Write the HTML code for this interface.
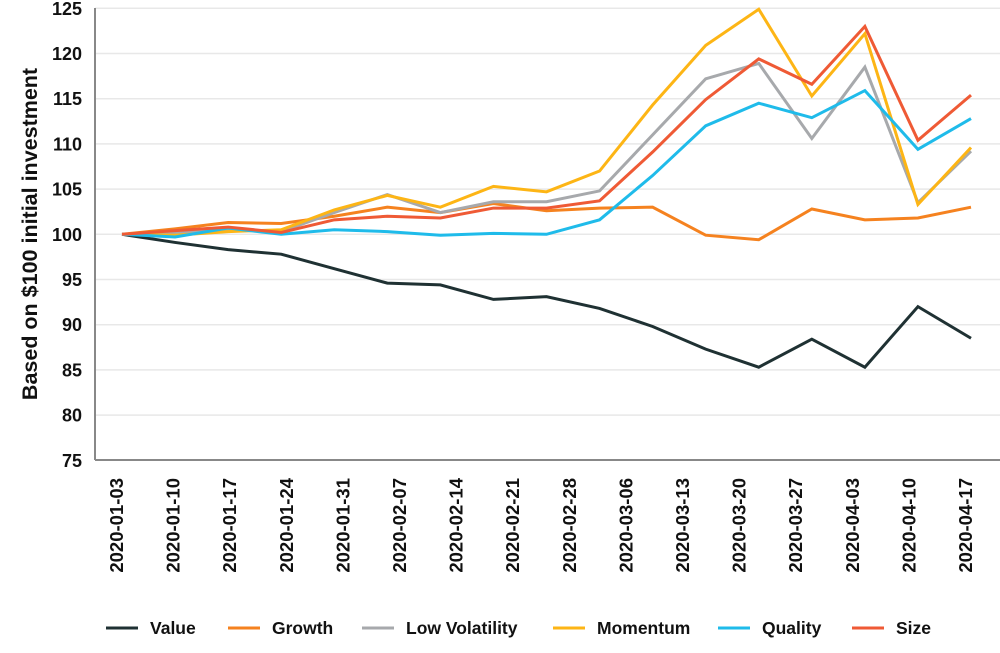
<!DOCTYPE html>
<html><head><meta charset="utf-8"><style>
body{margin:0;background:#fff;font-family:"Liberation Sans",sans-serif;}
svg text{font-family:"Liberation Sans",sans-serif;font-weight:bold;fill:#111;}
</style></head><body>
<svg id="chart" width="1000" height="648" viewBox="0 0 1000 648" xmlns="http://www.w3.org/2000/svg">
<g id="grid"></g>
<g id="yticks"></g>
<g id="xticks"></g>
<g id="lines"></g>
<line x1="95" y1="8" x2="95" y2="460" stroke="#888" stroke-width="2"/>
<line x1="95" y1="460" x2="1000" y2="460" stroke="#888" stroke-width="2"/>
<text transform="translate(37,234) rotate(-90)" text-anchor="middle" font-size="21.5">Based on $100 initial investment</text>
<g id="legend"></g>
</svg>
<script>
const dateLabels=["2020-01-03","2020-01-10","2020-01-17","2020-01-24","2020-01-31","2020-02-07","2020-02-14","2020-02-21","2020-02-28","2020-03-06","2020-03-13","2020-03-20","2020-03-27","2020-04-03","2020-04-10","2020-04-17"];
const yTicks=[75,80,85,90,95,100,105,110,115,120,125];
const seriesNames=["Value","Growth","Low Volatility","Momentum","Quality","Size"];
const valueSeries=[100,99.1,98.3,97.8,96.2,94.6,94.4,92.8,93.1,91.8,89.8,87.3,85.3,88.4,85.3,92.0,88.5];
const growthSeries=[100,100.6,101.3,101.2,102.0,103.0,102.4,103.4,102.6,102.9,103.0,99.9,99.4,102.8,101.6,101.8,103.0];
const lowVolSeries=[100,100.2,100.6,100.3,102.4,104.4,102.4,103.6,103.6,104.8,111.0,117.2,118.9,110.6,118.5,103.5,109.2];
const momentumSeries=[100,99.9,100.3,100.5,102.7,104.3,103.0,105.3,104.7,107.0,114.3,120.9,124.9,115.3,122.2,103.3,109.6];
const qualitySeries=[100,99.7,100.7,100.0,100.5,100.3,99.9,100.1,100.0,101.6,106.5,112.0,114.5,112.9,115.9,109.4,112.8];
const sizeSeries=[100,100.4,100.8,100.2,101.6,102.0,101.8,102.9,102.9,103.7,109.1,114.9,119.4,116.6,123.0,110.4,115.4];

const NS="http://www.w3.org/2000/svg";
const colors=["#1f3133","#f5821f","#a7a9ac","#fdb515","#1fbbea","#ef5a35"];
const allSeries=[valueSeries,growthSeries,lowVolSeries,momentumSeries,qualitySeries,sizeSeries];
const yScale=v=>8.3+(125-v)*9.04;
const xScale=i=>122+i*(971-122)/(valueSeries.length-1);
const labelX=i=>116+i*(965-116)/(dateLabels.length-1);
function mk(tag,attrs,parent){const e=document.createElementNS(NS,tag);for(const k in attrs)e.setAttribute(k,attrs[k]);parent.appendChild(e);return e;}
const grid=document.getElementById('grid'),yt=document.getElementById('yticks'),xt=document.getElementById('xticks'),lines=document.getElementById('lines'),legend=document.getElementById('legend');
yTicks.forEach(v=>{
  const gl=mk('line',{x1:95,x2:1000,y1:yScale(v),y2:yScale(v),stroke:'#e8e8e8','stroke-width':1.5},grid);
  
  
  const t=mk('text',{x:82,y:yScale(v)+6.5,'text-anchor':'end','font-size':18},yt);
  t.textContent=v;
  
  
});
dateLabels.forEach((d,i)=>{
  const t=mk('text',{transform:`translate(${labelX(i)+7},478) rotate(-90)`,'text-anchor':'end','font-size':18.5},xt);
  t.textContent=d;
  
  
});
allSeries.forEach((s,k)=>{
  const p=mk('polyline',{points:s.map((v,i)=>xScale(i)+','+yScale(v)).join(' '),fill:'none',stroke:colors[k],'stroke-width':3,'stroke-linejoin':'miter'},lines);
  
  
});
const legX=[106,228,362,553,718,852];
seriesNames.forEach((n,k)=>{
  const g=mk('g',{},legend);
  
  
  mk('line',{x1:legX[k],x2:legX[k]+32,y1:628,y2:628,stroke:colors[k],'stroke-width':3},g);
  const t=mk('text',{x:legX[k]+44,y:634,'font-size':17.5},g);
  t.textContent=n;
});
</script>
</body></html>
